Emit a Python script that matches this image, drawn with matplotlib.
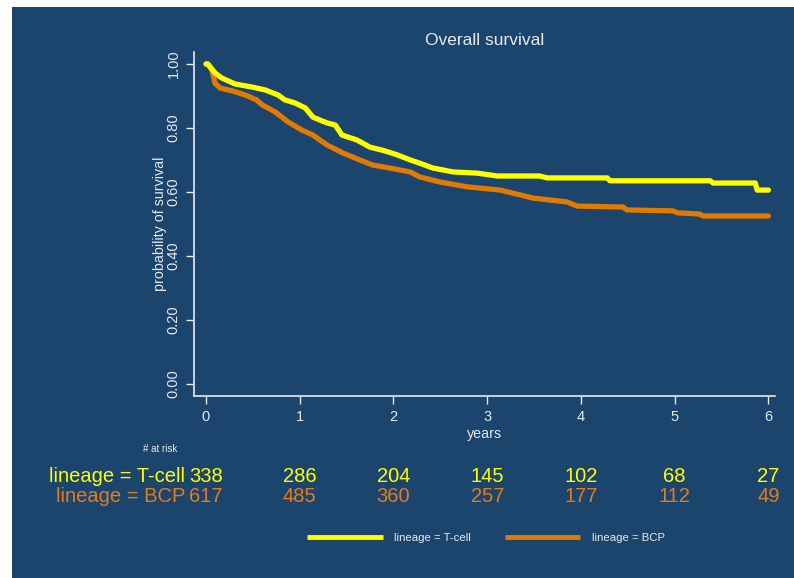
import matplotlib
matplotlib.use("Agg")
import matplotlib.pyplot as plt
from matplotlib.patches import Rectangle

plt.rcParams['font.family'] = ['Liberation Sans', 'DejaVu Sans']

# Kaplan-Meier estimates (years, survival)
tcell_time = [0, 0.02, 0.096, 0.17, 0.31, 0.49, 0.63, 0.77, 0.84, 0.95, 1.06, 1.14,
              1.29, 1.38, 1.45, 1.61, 1.75, 1.89, 2.04, 2.18, 2.28, 2.42, 2.64, 2.89,
              3.11, 3.56, 3.64, 4.28, 4.31, 5.38, 5.41, 5.86, 5.88, 6.0]
tcell_surv = [1.0, 1.0, 0.972, 0.956, 0.9375, 0.928, 0.919, 0.903, 0.888, 0.878, 0.8625, 0.834,
              0.816, 0.809, 0.778, 0.7625, 0.74, 0.73, 0.716, 0.70, 0.69, 0.675, 0.6625, 0.659,
              0.65, 0.65, 0.644, 0.644, 0.635, 0.635, 0.628, 0.628, 0.606, 0.606]

bcp_time = [0, 0.02, 0.064, 0.096, 0.15, 0.28, 0.42, 0.54, 0.60, 0.74, 0.875, 1.02,
            1.14, 1.29, 1.46, 1.64, 1.78, 1.96, 2.18, 2.28, 2.5, 2.79, 3.14, 3.49,
            3.85, 3.96, 4.45, 4.49, 4.98, 5.03, 5.27, 5.30, 6.0]
bcp_surv = [1.0, 1.0, 0.98, 0.94, 0.925, 0.916, 0.903, 0.8875, 0.872, 0.85, 0.819, 0.794,
            0.778, 0.747, 0.722, 0.70, 0.684, 0.675, 0.6625, 0.647, 0.631, 0.616, 0.606, 0.581,
            0.569, 0.556, 0.553, 0.544, 0.541, 0.535, 0.531, 0.525, 0.525]

risk_times = [0, 1, 2, 3, 4, 5, 6]
tcell_risk = [338, 286, 204, 145, 102, 68, 27]
bcp_risk = [617, 485, 360, 257, 177, 112, 49]

bg = '#1b456d'
fg = '#e6e9ee'
yellow = '#ffff00'
orange = '#e07a00'
orange_txt = '#e47b1c'

fig = plt.figure(figsize=(7.94, 5.78), dpi=100, facecolor='white')
fig.patches.append(Rectangle((12 / 794, 0), 1, 1 - 7 / 578, transform=fig.transFigure,
                             facecolor=bg, edgecolor='none', zorder=-10))

ax = fig.add_axes([194 / 794, 1 - 396 / 578, (775 - 194) / 794, (396 - 52) / 578])
ax.set_facecolor('none')

ax.plot(tcell_time, tcell_surv, color=yellow, lw=3.8, label='lineage = T-cell',
        solid_joinstyle='round', solid_capstyle='round', zorder=3)
ax.plot(bcp_time, bcp_surv, color=orange, lw=3.8, label='lineage = BCP',
        solid_joinstyle='round', solid_capstyle='round', zorder=2)

ax.set_xlim(-0.128, 6.07)
ax.set_ylim(-0.0375, 1.0375)
ax.set_xticks(risk_times)
ax.set_yticks([0, 0.2, 0.4, 0.6, 0.8, 1.0])
ax.set_yticklabels(['0.00', '0.20', '0.40', '0.60', '0.80', '1.00'],
                   rotation=90, va='center')
for s in ['top', 'right']:
    ax.spines[s].set_visible(False)
for s in ['left', 'bottom']:
    ax.spines[s].set_color(fg)
    ax.spines[s].set_linewidth(1.2)
ax.tick_params(colors=fg, labelcolor=fg, labelsize=10.5, length=6, width=1.0)
ax.tick_params(axis='x', pad=4)

ax.set_xlabel('years', color=fg, fontsize=10.3, labelpad=2)
ax.set_ylabel('probability of survival', color=fg, fontsize=10.3, labelpad=0)
ax.set_title('Overall survival', color=fg, fontsize=12.5, pad=5)

# number at risk table
tr = ax.get_xaxis_transform()
fig.text(160 / 794, 1 - 449 / 578, '# at risk', color=fg, fontsize=7, ha='center', va='center')
fig.text(185 / 794, 1 - 476 / 578, 'lineage = T-cell', color=yellow, fontsize=14.5,
         ha='right', va='center')
fig.text(185 / 794, 1 - 497 / 578, 'lineage = BCP', color=orange_txt, fontsize=14.5,
         ha='right', va='center')
y_t = (1 - 476 / 578 - ax.get_position().y0) / ax.get_position().height
y_b = (1 - 497 / 578 - ax.get_position().y0) / ax.get_position().height
for t, n1, n2 in zip(risk_times, tcell_risk, bcp_risk):
    ax.text(t, y_t, str(n1), transform=tr, color=yellow, fontsize=14.5,
            ha='center', va='center', clip_on=False)
    ax.text(t, y_b, str(n2), transform=tr, color=orange_txt, fontsize=14.5,
            ha='center', va='center', clip_on=False)

leg = fig.legend(loc='center', bbox_to_anchor=(486 / 794, 1 - 538 / 578), ncol=2,
                 frameon=False, fontsize=8.2, handlelength=6.6, handletextpad=1.0,
                 columnspacing=3.0)
for txt in leg.get_texts():
    txt.set_color(fg)
for h in leg.get_lines():
    h.set_linewidth(3.5)
    h.set_solid_capstyle('butt')

fig.savefig('out.png', dpi=100, facecolor='white')
